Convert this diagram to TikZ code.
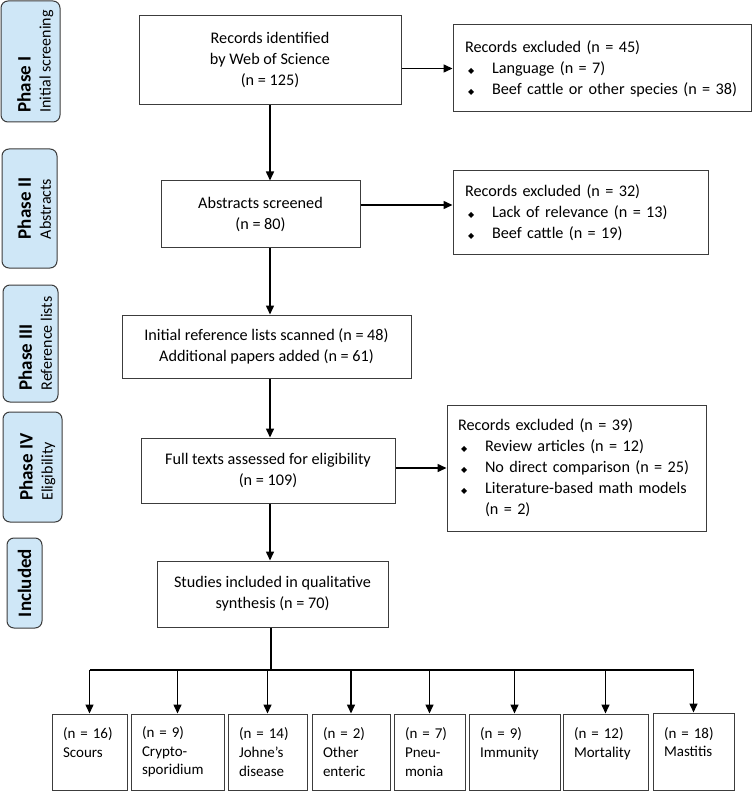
\documentclass[tikz,border=0pt]{standalone}
\usepackage{fontspec}
\setmainfont{Carlito}
\newfontfamily\symfont{DejaVu Sans}
\usetikzlibrary{arrows.meta}
\definecolor{phaseblue}{RGB}{207,231,247}
\definecolor{boxline}{RGB}{60,60,60}
\newcommand{\mainsize}{\fontsize{16.2}{21}\selectfont}
\newcommand{\leafsize}{\fontsize{15}{18.6}\selectfont}
\newcommand{\phasetitle}{\fontsize{19}{20}\selectfont\bfseries}
\newcommand{\phasesub}{\fontsize{16}{20}\selectfont\mdseries}
\newcommand{\dotitem}[1]{\mbox{\makebox[27pt][l]{\hspace{3pt}{\symfont\fontsize{8}{8}\selectfont ◆}}#1}}

\begin{document}
\begin{tikzpicture}[>={Triangle[length=9pt,width=8pt]}, x=1pt, y=-1pt]

\tikzstyle{phase}=[draw=boxline, line width=1pt, fill=phaseblue, rounded corners=7pt, rotate=90, align=left, inner sep=0pt, font=\phasesub]
\tikzstyle{main}=[draw=boxline, line width=1pt, align=center, inner sep=0pt, font=\mainsize]
\tikzstyle{excl}=[draw=boxline, line width=1pt, align=left, inner xsep=12pt, inner ysep=0pt, font=\mainsize]
\tikzstyle{leaf}=[draw=boxline, line width=1pt, align=left, inner xsep=11pt, inner ysep=0pt, minimum height=76pt, font=\leafsize]
\tikzstyle{arrow}=[->, line width=1.5pt]
\tikzstyle{line}=[line width=1.3pt]

\useasboundingbox (0,0) rectangle (752,791);

% Left: phase labels
\node[phase, minimum width=121pt, minimum height=59pt] (ph1) at (30.5,61.5) {\rule{0pt}{23pt}\phasetitle Phase I\\\phasesub Initial screening};
\node[phase, minimum width=119pt, minimum height=55pt] (ph2) at (29.5,208.5) {\rule{0pt}{23pt}\phasetitle Phase II\\\phasesub Abstracts};
\node[phase, minimum width=117pt, minimum height=55pt] (ph3) at (30.5,343.5) {\rule{0pt}{23pt}\phasetitle Phase III\\\phasesub Reference lists};
\node[phase, minimum width=110pt, minimum height=59pt] (ph4) at (32.5,467) {\rule{0pt}{23pt}\phasetitle Phase IV\\\phasesub Eligibility};
\node[phase, minimum width=90pt, minimum height=35pt] (ph5) at (24.5,583) {\phasetitle Included};

% Middle: main flow
\coordinate (axis) at (270,0);
\node[main, minimum width=262pt, minimum height=89pt] (ident) at (270,60.5) {Records identified\\by Web of Science\\(n = 125)};
\node[main, minimum width=199pt, minimum height=67pt] (abstr) at (260.5,214.5) {Abstracts screened\\(n = 80)};
\node[main, minimum width=289pt, minimum height=63pt] (reflist) at (266.5,346.5) {Initial reference lists scanned (n = 48)\\Additional papers added (n = 61)};
\node[main, minimum width=254pt, minimum height=65pt] (fulltext) at (268,470.5) {Full texts assessed for eligibility\\(n = 109)};
\node[main, minimum width=231pt, minimum height=66pt] (synth) at (272.5,594) {Studies included in qualitative\\synthesis (n = 70)};

\draw[arrow] (axis |- ident.south) -- (axis |- abstr.north);
\draw[arrow] (axis |- abstr.south) -- (axis |- reflist.north);
\draw[arrow] (axis |- reflist.south) -- (axis |- fulltext.north);
\draw[arrow] (axis |- fulltext.south) -- (axis |- synth.north);

% Right: exclusions
\node[excl, text width=274pt, minimum height=87pt] (excl1) at (602,68.5) {Records excluded (n = 45)\\\dotitem{Language (n = 7)}\\\dotitem{Beef cattle or other species (n = 38)}};
\node[excl, text width=231pt, minimum height=84pt] (excl2) at (580.5,213) {Records excluded (n = 32)\\\dotitem{Lack of relevance (n = 13)}\\\dotitem{Beef cattle (n = 19)}};
\node[excl, inner xsep=11pt, text width=237pt, minimum height=126pt] (excl3) at (576.5,468) {Records excluded (n = 39)\\\dotitem{Review articles (n = 12)}\\\dotitem{No direct comparison (n = 25)}\\\dotitem{Literature-based math models}\\\hspace*{27pt}(n = 2)};

\draw[arrow] (ident.east |- excl1.west) -- (excl1.west);
\draw[arrow] ([yshift=8pt]abstr.east |- excl2.west) -- ([yshift=8pt]excl2.west);
\draw[arrow] (fulltext.east |- excl3.west) -- (excl3.west);

% Bottom: outcome groups
\coordinate (split) at (271,670);
\node[leaf, text width=53pt] (scours) at (89.5,752) {(n = 16)\\Scours\\~};
\node[leaf, text width=71pt] (crypto) at (177.5,752) {(n = 9)\\Crypto-\\sporidium};
\node[leaf, text width=57pt] (johne) at (267.5,752) {(n = 14)\\Johne’s\\disease};
\node[leaf, text width=56pt] (enteric) at (351,752) {(n = 2)\\Other\\enteric};
\node[leaf, text width=49pt] (pneu) at (429.5,752) {(n = 7)\\Pneu-\\monia};
\node[leaf, text width=69pt] (immun) at (514.5,752) {(n = 9)\\Immunity\\~};
\node[leaf, text width=63pt] (mortal) at (605.5,752) {(n = 12)\\Mortality\\~};
\node[leaf, text width=59pt, minimum height=77pt] (mastitis) at (693.5,751.5) {(n = 18)\\Mastitis\\~};

\draw[line] (split |- synth.south) -- (split);
\draw[line] (scours.north |- split) -- (mastitis.north |- split);
\draw[arrow] (scours.north |- split) -- (scours.north);
\draw[arrow] (crypto.north |- split) -- (crypto.north);
\draw[arrow] (johne.north |- split) -- (johne.north);
\draw[arrow] (enteric.north |- split) -- (enteric.north);
\draw[arrow] (pneu.north |- split) -- (pneu.north);
\draw[arrow] (immun.north |- split) -- (immun.north);
\draw[arrow] (mortal.north |- split) -- (mortal.north);
\draw[arrow] (mastitis.north |- split) -- (mastitis.north);

\end{tikzpicture}
\end{document}
